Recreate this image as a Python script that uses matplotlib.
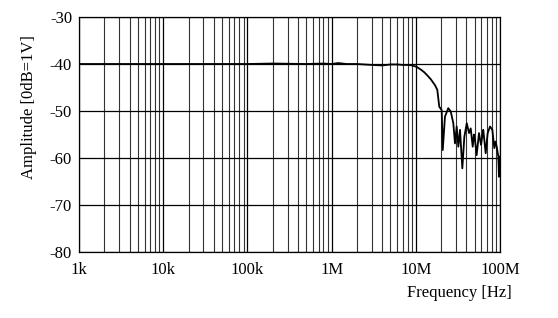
import matplotlib
matplotlib.use("Agg")
import matplotlib.pyplot as plt
from matplotlib.ticker import LogLocator, FixedLocator, NullFormatter

plt.rcParams['font.family'] = ['Liberation Serif', 'DejaVu Serif']
plt.rcParams['axes.unicode_minus'] = False

freq = [1e3, 3e3, 1e4, 3e4, 1e5, 2e5, 5e5, 8e5, 1.0e6, 1.2e6, 1.5e6, 2e6,
        3e6, 4e6, 5e6, 6e6, 7e6, 8e6, 9e6, 10.2e6, 11.5e6, 12.5e6, 13.5e6,
        15e6, 16.9e6, 18.0e6, 19.0e6, 20.3e6, 20.9e6, 22.2e6, 24.3e6, 26.0e6,
        27.9e6, 29.2e6, 30.6e6, 32.0e6, 33.5e6, 35.7e6, 37.7e6, 40.3e6, 42.9e6,
        44.9e6, 47.4e6, 49.0e6, 50.5e6, 52.8e6, 56.3e6, 59.5e6, 61.5e6, 63.3e6,
        67.6e6, 71.4e6, 76.1e6, 81.1e6, 85.6e6, 88.5e6, 91.4e6, 95.5e6, 97.3e6,
        100e6]
amplitude = [-40.0, -40.0, -40.0, -40.0, -40.0, -39.9, -40.0, -39.9, -40.0, -39.8, -40.0, -40.0,
             -40.2, -40.3, -40.1, -40.1, -40.2, -40.2, -40.3, -40.6, -41.2, -41.7, -42.3,
             -43.2, -44.5, -45.5, -49.1, -49.8, -58.3, -51.2, -49.4, -50.1,
             -52.6, -56.9, -53.3, -57.6, -54.0, -62.2, -55.5, -52.6, -54.7,
             -53.7, -57.6, -55.0, -56.2, -59.4, -54.7, -57.2, -55.5, -54.0,
             -59.0, -54.7, -53.3, -54.0, -57.9, -56.5, -57.6, -59.7, -64.0,
             -59.7]

x_ticks = [1e3, 1e4, 1e5, 1e6, 1e7, 1e8]
x_labels = ['1k', '10k', '100k', '1M', '10M', '100M']
y_ticks = [-80, -70, -60, -50, -40, -30]

fig = plt.figure(figsize=(5.58, 3.18), dpi=100)
ax = fig.add_axes([79/558, 1-252/318, 421/558, 235/318])
ax.plot(freq, amplitude, color='black', lw=1.3)
ax.set_xscale('log')
ax.set_xlim(1e3, 1e8)
ax.set_ylim(-80, -30)
ax.xaxis.set_major_locator(FixedLocator(x_ticks))
ax.set_xticklabels(x_labels)
ax.xaxis.set_minor_locator(LogLocator(base=10, subs=range(2, 10), numticks=20))
ax.xaxis.set_minor_formatter(NullFormatter())
ax.set_yticks(y_ticks)
ax.grid(which='major', color='black', lw=0.9)
ax.grid(which='minor', axis='x', color='#333333', lw=0.8)
ax.tick_params(which='both', length=0, labelsize=12)
ax.tick_params(axis='y', pad=5)
ax.tick_params(axis='x', pad=7)
for s in ax.spines.values():
    s.set_color('black')
    s.set_linewidth(0.9)
fig.text(29/558, 1-107/318, 'Amplitude [0dB=1V]', rotation=90, ha='center', va='center', fontsize=12)
fig.text(512/558, 1-293/318, 'Frequency [Hz]', ha='right', va='center', fontsize=12)
fig.savefig('out.png', dpi=100)
